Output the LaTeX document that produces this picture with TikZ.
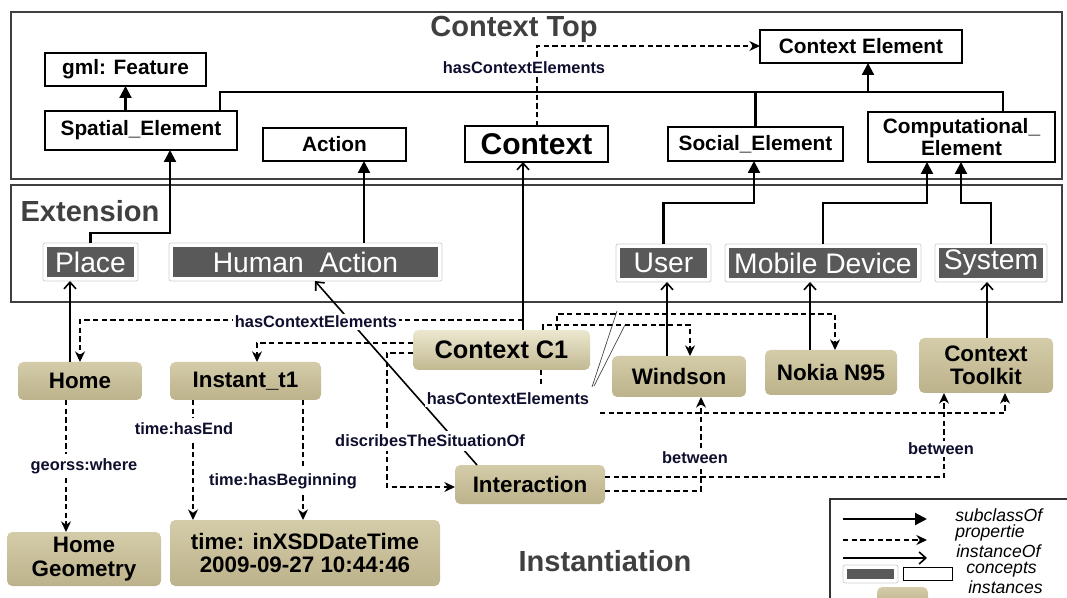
\documentclass[tikz,border=0pt]{standalone}
\usepackage{fontspec}
\setmainfont{Liberation Sans}
\usetikzlibrary{arrows.meta,calc}
\definecolor{tanl}{HTML}{D4CCA9}
\definecolor{tand}{HTML}{BCB28B}
\definecolor{cll}{HTML}{ECE7D0}
\definecolor{cld}{HTML}{C2B991}
\definecolor{dgray}{HTML}{595959}
\definecolor{ttl}{HTML}{404040}
\definecolor{lbl}{HTML}{0E0E2E}
\newcommand\fT{\fontsize{21.8pt}{24pt}\selectfont\bfseries}
\newcommand\fB{\fontsize{15.6pt}{18pt}\selectfont\bfseries}
\newcommand\fCtx{\fontsize{22.5pt}{25pt}\selectfont\bfseries}
\newcommand\fE{\fontsize{21.2pt}{24pt}\selectfont}
\newcommand\fI{\fontsize{16.8pt}{19.5pt}\selectfont\bfseries}
\newcommand\fCone{\fontsize{19pt}{22pt}\selectfont\bfseries}
\newcommand\fL{\fontsize{12.3pt}{14pt}\selectfont\bfseries}
\newcommand\fLg{\fontsize{13.2pt}{14pt}\selectfont\itshape}
\begin{document}
\begin{tikzpicture}[x=0.75pt,y=-0.75pt,
  bb/.style n args={4}{at={({(#1+#3)/2},{(#2+#4)/2})},minimum width={(#3-#1)*0.75pt},minimum height={(#4-#2)*0.75pt},inner sep=0pt,outer sep=0pt},
  frame/.style={draw=ttl,line width=0.8pt},
  title/.style={font=\fT,text=ttl},
  concept/.style={draw=black,line width=0.9pt,fill=white,font=\fB,align=center},
  extout/.style={fill=white,draw=black!18,line width=0.6pt,rounded corners=1.5pt},
  extin/.style={fill=dgray,text=white,font=\fE},
  inst/.style={rounded corners=4pt,top color=tanl,bottom color=tand,font=\fI,align=center,text=black},
  cone/.style={rounded corners=4pt,top color=cll,bottom color=cld,font=\fCone,text=black},
  lab/.style={font=\fL,text=lbl,fill=white,inner sep=1.5pt},
  conn/.style={line width=1.6pt},
  sub/.style={line width=1.6pt,-{Triangle[length=9pt,width=9pt]}},
  insto/.style={line width=1.2pt,-{Straight Barb[length=5pt,width=9pt]}},
  prop/.style={line width=1.1pt,dash pattern=on 4pt off 2.5pt,-{Stealth[length=8pt,width=7.5pt]}},
  propn/.style={line width=1.1pt,dash pattern=on 4pt off 2.5pt},
  callout/.style={line width=0.5pt,draw=black!75},
  lgt/.style={font=\fLg,anchor=west,inner sep=0pt}
]
\useasboundingbox (0,0) rectangle (1067,598);
\clip (0,0) rectangle (1067,598);
\fill[white] (0,0) rectangle (1067,598);

% ---------- frames ----------
\draw[frame] (11,12) rectangle (1062,179);
\draw[frame] (11,185) rectangle (1062,302);
\node[title] (ttop) at (514,29) {Context Top};
\node[title] (text) at (90,211) {Extension};
\node[title] (tinst) at (605,561) {Instantiation};

% ---------- Context Top concepts ----------
\node[concept,bb={760}{30}{962}{63}] (ce) {Context Element};
\node[concept,bb={45}{53}{206}{86}] (gml) {gml: Feature};
\node[concept,bb={45}{111}{237}{150}] (spatial) {Spatial\_Element};
\node[concept,bb={263}{128}{406}{161}] (action) {Action};
\node[concept,bb={465}{126}{608}{162},font=\fCtx] (context) {Context};
\node[concept,bb={668}{127}{843}{161}] (social) {Social\_Element};
\node[concept,bb={868}{112}{1055}{162}] (comp) {Computational\_\\[-1pt]Element};

% ---------- Extension concepts ----------
\node[extout,bb={43}{243}{138}{281}] (placeO) {};
\node[extin,bb={47}{247}{134}{277}] (place) {Place};
\node[extout,bb={169}{243}{442}{281}] (haO) {};
\node[extin,bb={173}{247}{438}{277}] (ha) {Human\ \ Action};
\node[extout,bb={616}{244}{711}{282}] (userO) {};
\node[extin,bb={620}{248}{707}{278}] (user) {User};
\node[extout,bb={725}{244}{921}{282}] (mdO) {};
\node[extin,bb={729}{248}{917}{278}] (md) {Mobile Device};
\node[extout,bb={935}{244}{1047}{282}] (sysO) {};
\node[extin,bb={939}{248}{1043}{278}] (sys) {System};

% ---------- instances ----------
\node[inst,bb={18}{362}{142}{400}] (home) {Home};
\node[inst,bb={170}{362}{321}{400}] (instant) {Instant\_t1};
\node[cone,bb={413}{330}{590}{370}] (c1) {Context C1};
\node[inst,bb={612}{356}{746}{397}] (windson) {Windson};
\node[inst,bb={765}{350}{897}{395}] (nokia) {Nokia N95};
\node[inst,bb={919}{338}{1053}{393}] (toolkit) {Context\\[-2pt]Toolkit};
\node[inst,bb={455}{465}{605}{504}] (inter) {Interaction};
\node[inst,bb={7}{532}{161}{586}] (homegeo) {Home\\[-2pt]Geometry};
\node[inst,bb={170}{520}{440}{586}] (time) {time: inXSDDateTime\\[-2pt]2009-09-27 10:44:46};

% ---------- subclass hierarchy (Context Top) ----------
\coordinate (h1) at (220,92);
\coordinate (h2) at (1003,92);
\coordinate (hce) at (868,92);
\draw[conn] (h1 |- spatial.north) -- (h1) -- (h2) -- (h2 |- comp.north);
\draw[conn] (social.north) -- (social.north |- h1);
\draw[sub] (hce) -- (hce |- ce.south);
\draw[sub] (spatial.north -| gml.south) -- (gml.south);

% ---------- Extension -> Context Top ----------
\coordinate (ps) at (170,233);
\draw[sub] (placeO.north) |- (ps) -- (ps |- spatial.south);
\coordinate (hx) at (364,250);
\draw[sub] (haO.north -| hx) -- (action.south -| hx);
\coordinate (us) at (754,203);
\draw[sub] (userO.north) |- (us) -- (us |- social.south);
\coordinate (ms) at (927,203);
\draw[sub] (mdO.north) |- (ms) -- (ms |- comp.south);
\coordinate (ss) at (961,203);
\draw[sub] (sysO.north) |- (ss) -- (ss |- comp.south);

% ---------- instanceOf ----------
\coordinate (xh) at (70,300);
\draw[insto] (home.north -| xh) -- (placeO.south -| xh);
\coordinate (xw) at (667,300);
\draw[insto] (windson.north -| xw) -- (userO.south -| xw);
\coordinate (xn) at (810,300);
\draw[insto] (nokia.north -| xn) -- (mdO.south -| xn);
\coordinate (xt) at (987,300);
\draw[insto] (toolkit.north -| xt) -- (sysO.south -| xt);
\coordinate (xc) at (523,300);
\draw[insto] (c1.north -| xc) -- (context.south -| xc);
\coordinate (ia) at (477,465);
\coordinate (ib) at (315,281);
\draw[insto] (ia) -- (ib);

% ---------- properties ----------
% Context -> Context Element
\coordinate (cx) at (537,46);
\draw[prop] (context.north -| cx) -- (cx) -- (ce.west |- cx);
\node[lab] (l1) at (524,68) {hasContextElements};
% C1 -> Home
\coordinate (ch) at (523,320);
\draw[prop] (ch) -| (home.north);
\node[lab] (l2) at (316,322) {hasContextElements};
% C1 -> Instant
\coordinate (ci1) at (413,343);
\coordinate (ci2) at (257,362);
\draw[prop] (ci1) -| (ci2);
% C1 -> Interaction
\coordinate (cn1) at (413,353);
\coordinate (cn2) at (387,487);
\draw[prop] (cn1) -| (cn2) -- (inter.west |- cn2);
% C1 -> Windson
\coordinate (cw1) at (543,330);
\coordinate (cw2) at (690,325);
\draw[prop] (cw1) |- (cw2) -- (cw2 |- windson.north);
% C1 -> Nokia
\coordinate (ck1) at (557,330);
\coordinate (ck2) at (835,314);
\draw[prop] (ck1) |- (ck2) -- (ck2 |- nokia.north);
% C1 -> Toolkit (lower)
\coordinate (cb1) at (541,370);
\coordinate (cb2) at (541,384);
\draw[propn] (cb1) -- (cb2);
\coordinate (cb3) at (600,413);
\coordinate (cb4) at (1005,413);
\draw[prop] (cb3) -- (cb4) -- (cb4 |- toolkit.south);
\node[lab] (l3) at (508,399) {hasContextElements};
\draw[callout] (592,387) -- (617,311);
\draw[callout] (594,386) -- (625,325);
% Interaction between
\coordinate (b1) at (605,491);
\coordinate (b2) at (701,491);
\draw[prop] (b1) -- (b2) -- (b2 |- windson.south);
\coordinate (b3) at (605,477);
\coordinate (b4) at (944,477);
\draw[prop] (b3) -- (b4) -- (b4 |- toolkit.south);
\node[lab] (l4) at (695,458) {between};
\node[lab] (l5) at (941,449) {between};
% describes label
\node[lab,inner sep=3pt] (l6) at (430,441) {discribesTheSituationOf};
% Home -> Home Geometry
\coordinate (gx) at (66,450);
\draw[prop] (home.south -| gx) -- (homegeo.north -| gx);
\node[lab,inner sep=3pt] (l7) at (84,466) {georss:where};
% Instant -> time
\coordinate (te) at (193,450);
\draw[prop] (instant.south -| te) -- (time.north -| te);
\node[lab,inner sep=4pt] (l8) at (184,429) {time:hasEnd};
\coordinate (tb) at (303,450);
\draw[prop] (instant.south -| tb) -- (time.north -| tb);
\node[lab,inner sep=4pt] (l9) at (283,481) {time:hasBeginning};

% ---------- legend ----------
\draw[frame,draw=black!80] (830,499) rectangle (1080,640);
\coordinate (a1) at (843,519); \coordinate (a2) at (927,519);
\draw[sub] (a1) -- (a2);
\coordinate (a3) at (843,540); \coordinate (a4) at (927,540);
\draw[prop] (a3) -- (a4);
\coordinate (a5) at (843,558); \coordinate (a6) at (927,558);
\draw[insto] (a5) -- (a6);
\node[lgt] (g1) at (955,515) {subclassOf};
\node[lgt] (g2) at (955,533) {propertie};
\node[lgt] (g3) at (956,551) {instanceOf};
\node[lgt] (g4) at (966,570) {concepts};
\node[lgt] (g5) at (968,587) {instances};
\node[extout,bb={843}{565}{898}{583}] (lc1o) {};
\node[fill=dgray,bb={847}{569}{894}{579}] (lc1) {};
\node[draw=black,line width=0.6pt,fill=white,bb={903}{567}{952}{580}] (lc2) {};
\node[inst,bb={877}{587}{928}{606}] (li) {};
\end{tikzpicture}
\end{document}
